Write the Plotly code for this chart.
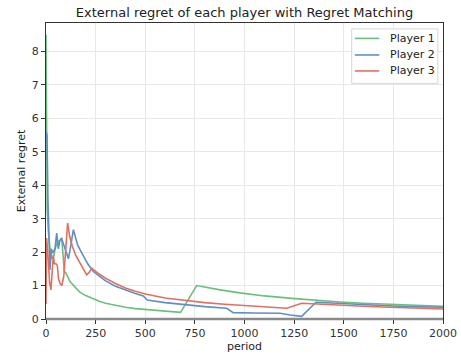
import plotly.graph_objects as go

# Player 1 (green)
p1_period = [0, 3, 6, 12, 20, 30, 40, 45, 57, 70, 79, 87, 92, 100, 121, 150, 171, 200, 238, 272, 300, 350, 400, 450, 500, 550, 600, 650, 678, 759, 800, 877, 977, 1100, 1254, 1380, 1481, 1600, 1700, 1800, 1900, 2000]
p1_regret = [8.5, 5.0, 3.3, 2.6, 2.1, 1.8, 1.9, 2.07, 2.3, 2.35, 2.42, 1.82, 1.42, 1.38, 1.12, 0.93, 0.8, 0.7, 0.6, 0.52, 0.47, 0.4, 0.35, 0.31, 0.29, 0.26, 0.24, 0.22, 0.2, 1.0, 0.95, 0.87, 0.78, 0.69, 0.61, 0.55, 0.51, 0.47, 0.45, 0.42, 0.4, 0.38]

# Player 2 (blue)
p2_period = [0, 5, 10, 15, 20, 27, 34, 45, 54, 62, 70, 79, 95, 113, 125, 138, 160, 188, 210, 238, 300, 350, 400, 450, 490, 510, 600, 700, 800, 910, 943, 1050, 1179, 1230, 1288, 1360, 1450, 1550, 1650, 1750, 1850, 2000]
p2_regret = [5.6, 5.5, 3.5, 2.4, 1.47, 2.1, 1.97, 2.1, 2.57, 2.1, 2.35, 2.4, 2.1, 1.8, 2.2, 2.67, 2.2, 1.87, 1.65, 1.42, 1.14, 0.98, 0.86, 0.76, 0.69, 0.57, 0.49, 0.42, 0.37, 0.32, 0.19, 0.18, 0.17, 0.12, 0.08, 0.5, 0.47, 0.44, 0.41, 0.39, 0.37, 0.35]

# Player 3 (red)
p3_period = [0, 3, 10, 18, 25, 30, 37, 42, 50, 57, 63, 72, 80, 90, 100, 109, 120, 133, 150, 171, 190, 205, 218, 230, 260, 300, 350, 400, 450, 500, 600, 700, 800, 900, 1000, 1100, 1213, 1288, 1400, 1500, 1600, 1700, 1800, 1900, 2000]
p3_regret = [0.45, 2.42, 1.9, 1.1, 0.87, 1.3, 1.92, 1.65, 1.65, 1.6, 1.2, 1.05, 1.0, 1.3, 2.3, 2.87, 2.45, 2.17, 1.9, 1.67, 1.48, 1.32, 1.4, 1.52, 1.38, 1.22, 1.06, 0.93, 0.83, 0.75, 0.63, 0.55, 0.49, 0.44, 0.4, 0.36, 0.32, 0.47, 0.43, 0.4, 0.38, 0.36, 0.34, 0.32, 0.3]

x_ticks = [0, 250, 500, 750, 1000, 1250, 1500, 1750, 2000]
y_ticks = [0, 1, 2, 3, 4, 5, 6, 7, 8]

series_names = ["Player 1", "Player 2", "Player 3"]
series_colors = ["#6bbf7e", "#5f8fc4", "#e07060"]

fig = go.Figure()
for name, xs, ys, col in zip(series_names,
                             [p1_period, p2_period, p3_period],
                             [p1_regret, p2_regret, p3_regret],
                             series_colors):
    fig.add_trace(go.Scatter(x=xs, y=ys, mode="lines", name=name,
                             line=dict(color=col, width=1.6), showlegend=False))

axis_common = dict(
    showline=True, linecolor="#333", linewidth=1, mirror=True,
    ticks="outside", ticklen=4, tickcolor="#333",
    showgrid=True, gridcolor="#e8e8e8", gridwidth=1,
    zeroline=False, automargin=False,
    tickfont=dict(family="DejaVu Sans", size=11, color="#333"),
)

# manual legend (box, sample lines, labels) in paper coordinates
shapes = [
    dict(type="line", xref="paper", yref="paper", x0=0, x1=1, y0=0, y1=0,
         line=dict(color="#8a8a8a", width=2.5), layer="above"),
    dict(type="rect", xref="paper", yref="paper", x0=0.770, x1=0.987, y0=0.796, y1=0.980,
         fillcolor="rgba(255,255,255,0.85)", line=dict(color="#d6d6d6", width=1), layer="above"),
]
annotations = []
row_y = [0.948, 0.892, 0.838]
for name, col, yy in zip(series_names, series_colors, row_y):
    shapes.append(dict(type="line", xref="paper", yref="paper", x0=0.778, x1=0.8395,
                       y0=yy, y1=yy, line=dict(color=col, width=1.6), layer="above"))
    annotations.append(dict(text=name, xref="paper", yref="paper", x=0.8607, y=yy,
                            xanchor="left", yanchor="middle", showarrow=False,
                            font=dict(family="DejaVu Sans", size=11, color="#222")))

fig.update_layout(
    width=461, height=359,
    margin=dict(l=46, r=18, t=23, b=40),
    paper_bgcolor="white", plot_bgcolor="white",
    font=dict(family="DejaVu Sans", size=11, color="#222"),
    title=dict(text="External regret of each player with Regret Matching",
               xref="paper", x=0.5, xanchor="center", yref="container", y=0.966, yanchor="middle",
               font=dict(family="DejaVu Sans", size=13, color="#222")),
    xaxis=dict(range=[0, 2000], tickvals=x_ticks,
               title=dict(text="period", standoff=2, font=dict(size=11)), **axis_common),
    yaxis=dict(range=[0, 8.85], tickvals=y_ticks,
               title=dict(text="External regret", standoff=3, font=dict(size=11)), **axis_common),
    shapes=shapes,
    annotations=annotations,
    showlegend=False,
)

fig.write_html("out.html", config={"displayModeBar": False, "staticPlot": True},
               post_script="document.body.style.margin='0';document.body.style.overflow='hidden';")
